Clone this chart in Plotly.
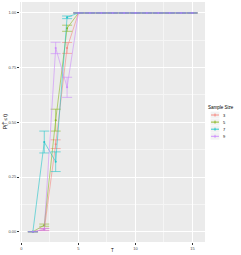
import plotly.graph_objects as go

# ---- data ----
T_values = list(range(1, 16))
sample_sizes = ["3", "5", "7", "9"]
colors = ["#F8766D", "#7CAE00", "#00BFC4", "#C77CFF"]

p_3 = [0.0, 0.01, 0.40, 0.84] + [1.0] * 11
p_5 = [0.0, 0.03, 0.51, 0.93] + [1.0] * 11
p_7 = [0.0, 0.41, 0.32, 0.98] + [1.0] * 11
p_9 = [0.0, 0.01, 0.84, 0.66] + [1.0] * 11

err_3 = [0.0, 0.005, 0.02, 0.025] + [0.0] * 11
err_5 = [0.0, 0.005, 0.05, 0.014] + [0.0] * 11
err_7 = [0.0, 0.05, 0.045, 0.006] + [0.0] * 11
err_9 = [0.0, 0.005, 0.026, 0.046] + [0.0] * 11

x_ticks = [0, 5, 10, 15]
y_ticks = [0.0, 0.25, 0.5, 0.75, 1.0]

series = [p_3, p_5, p_7, p_9]
errors = [err_3, err_5, err_7, err_9]

# ---- layout constants ----
W, H = 241, 255
L, R, T, B = 20, 36, 2, 13
PW, PH = W - L - R, H - T - B
FONT = "Liberation Sans, Arial, sans-serif"


def px(x):
    return (x - L) / PW


def py(y):
    return (H - B - y) / PH


fig = go.Figure()
for name, col, ys, es in zip(sample_sizes, colors, series, errors):
    fig.add_trace(go.Scatter(
        x=T_values, y=ys, name=name, mode="lines+markers",
        line=dict(color=col, width=0.6),
        marker=dict(color=col, size=2),
        error_y=dict(type="data", array=es, width=5, thickness=0.6, color=col),
        opacity=0.85,
        showlegend=False,
    ))

annotations = [
    dict(x=px(206), y=py(107), xref="paper", yref="paper",
         text="Sample Size", showarrow=False, xanchor="left",
         yanchor="middle", font=dict(size=4.5, color="#000000", family=FONT)),
    dict(x=px(112), y=py(250), xref="paper", yref="paper",
         text="T", showarrow=False, xanchor="center",
         yanchor="middle", font=dict(size=4.5, color="#000000", family=FONT)),
    dict(x=px(5), y=py(122), xref="paper", yref="paper", textangle=-90,
         text="P(T\u0302 \u2264 t)", showarrow=False, xanchor="center",
         yanchor="middle", font=dict(size=4.5, color="#000000", family=FONT)),
]
shapes = []
for i, (name, col) in enumerate(zip(sample_sizes, colors)):
    yc = 115 + i * 7.1
    shapes.append(dict(type="rect", xref="paper", yref="paper",
                       x0=px(210.5), x1=px(219.5), y0=py(yc + 3.4), y1=py(yc - 3.4),
                       fillcolor="#F2F2F2", line=dict(width=0)))
    shapes.append(dict(type="line", xref="paper", yref="paper",
                       x0=px(211), x1=px(219), y0=py(yc), y1=py(yc),
                       line=dict(color=col, width=0.8)))
    shapes.append(dict(type="line", xref="paper", yref="paper",
                       x0=px(215), x1=px(215), y0=py(yc - 1.5), y1=py(yc + 1.5),
                       line=dict(color=col, width=0.8)))
    annotations.append(dict(x=px(221), y=py(yc), xref="paper", yref="paper",
                            text=name, showarrow=False, xanchor="left",
                            yanchor="middle", font=dict(size=4, color="#000000", family=FONT)))

fig.update_layout(
    width=W, height=H,
    margin=dict(l=L, r=R, t=T, b=B, autoexpand=False),
    paper_bgcolor="white", plot_bgcolor="#EBEBEB",
    font=dict(family=FONT, size=4, color="#4D4D4D"),
    showlegend=False,
    shapes=shapes, annotations=annotations,
)
fig.update_xaxes(
    range=[-0.13, 16.1], tickvals=x_ticks, ticktext=[str(v) for v in x_ticks],
    showgrid=True, gridcolor="white", gridwidth=0.9, zeroline=False,
    minor=dict(dtick=2.5, tick0=0, showgrid=True, gridcolor="#F5F5F5", gridwidth=0.5),
    ticks="outside", ticklen=2, tickcolor="#333333", tickwidth=0.6,
    tickfont=dict(size=4, color="#4D4D4D"), showline=False, automargin=False,
)
fig.update_yaxes(
    range=[-0.047, 1.05], tickvals=y_ticks, ticktext=["%.2f" % v for v in y_ticks],
    showgrid=True, gridcolor="white", gridwidth=0.9, zeroline=False,
    minor=dict(dtick=0.125, tick0=0, showgrid=True, gridcolor="#F5F5F5", gridwidth=0.5),
    ticks="outside", ticklen=2, tickcolor="#333333", tickwidth=0.6,
    tickfont=dict(size=4, color="#4D4D4D"), showline=False, automargin=False,
)

fig.write_html(
    "out.html",
    config={"displayModeBar": False},
    post_script="document.body.style.margin='0';document.body.style.overflow='hidden';",
)
